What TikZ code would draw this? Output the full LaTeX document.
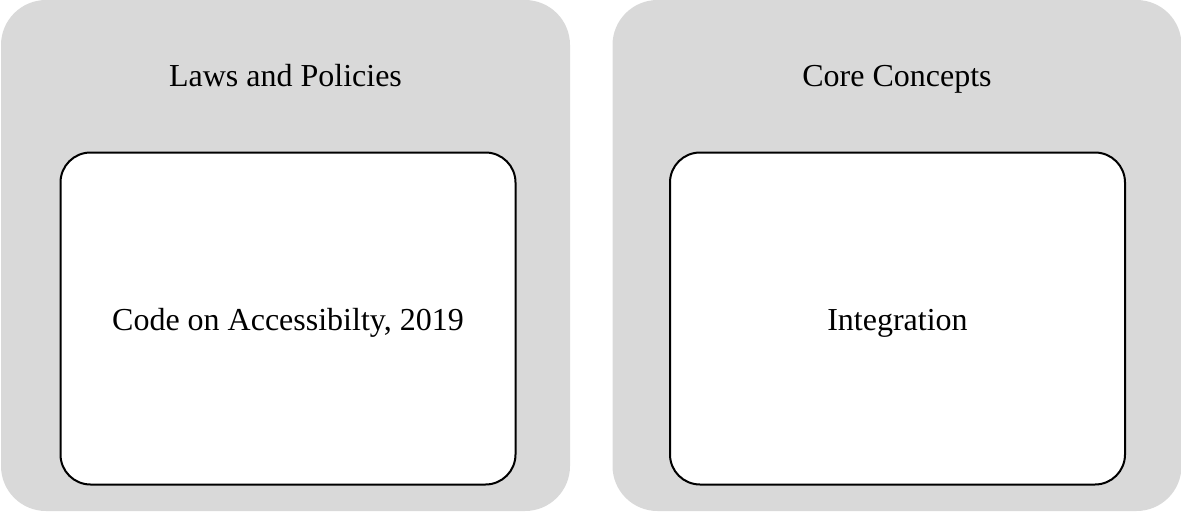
\documentclass[tikz,border=0pt]{standalone}
\usepackage{fontspec}
\setmainfont{Liberation Serif}
\usepackage{tikz}

\definecolor{panelgrey}{HTML}{D9D9D9}

\begin{document}
\begin{tikzpicture}
[x=1pt,y=-1pt,
panel/.style={fill=panelgrey,draw=none,rounded corners=45pt,minimum width=569pt,minimum height=511pt,inner sep=0pt},
card/.style={fill=white,draw=black,line width=2pt,rounded corners=30pt,minimum width=455pt,minimum height=332pt,inner sep=0pt},
head/.style={font=\fontsize{32}{38}\selectfont,inner sep=0pt,anchor=base}]
\useasboundingbox (0,0) rectangle (1181,512);

\node[panel] (p1) at (285.5,255.5) {};
\node[panel] (p2) at (897,255.5) {};

\node[head] (h1) at (285.5,86) {Laws and Policies};
\node[head] (h2) at (897,86) {Core Concepts};

\node[card] (c1) at (288,318.5) {};
\node[card] (c2) at (897.5,318.5) {};

\node[head] (t1) at (c1.center |- 0,330) {Code on Accessibilty, 2019};
\node[head] (t2) at (c2.center |- 0,330) {Integration};
\end{tikzpicture}
\end{document}
